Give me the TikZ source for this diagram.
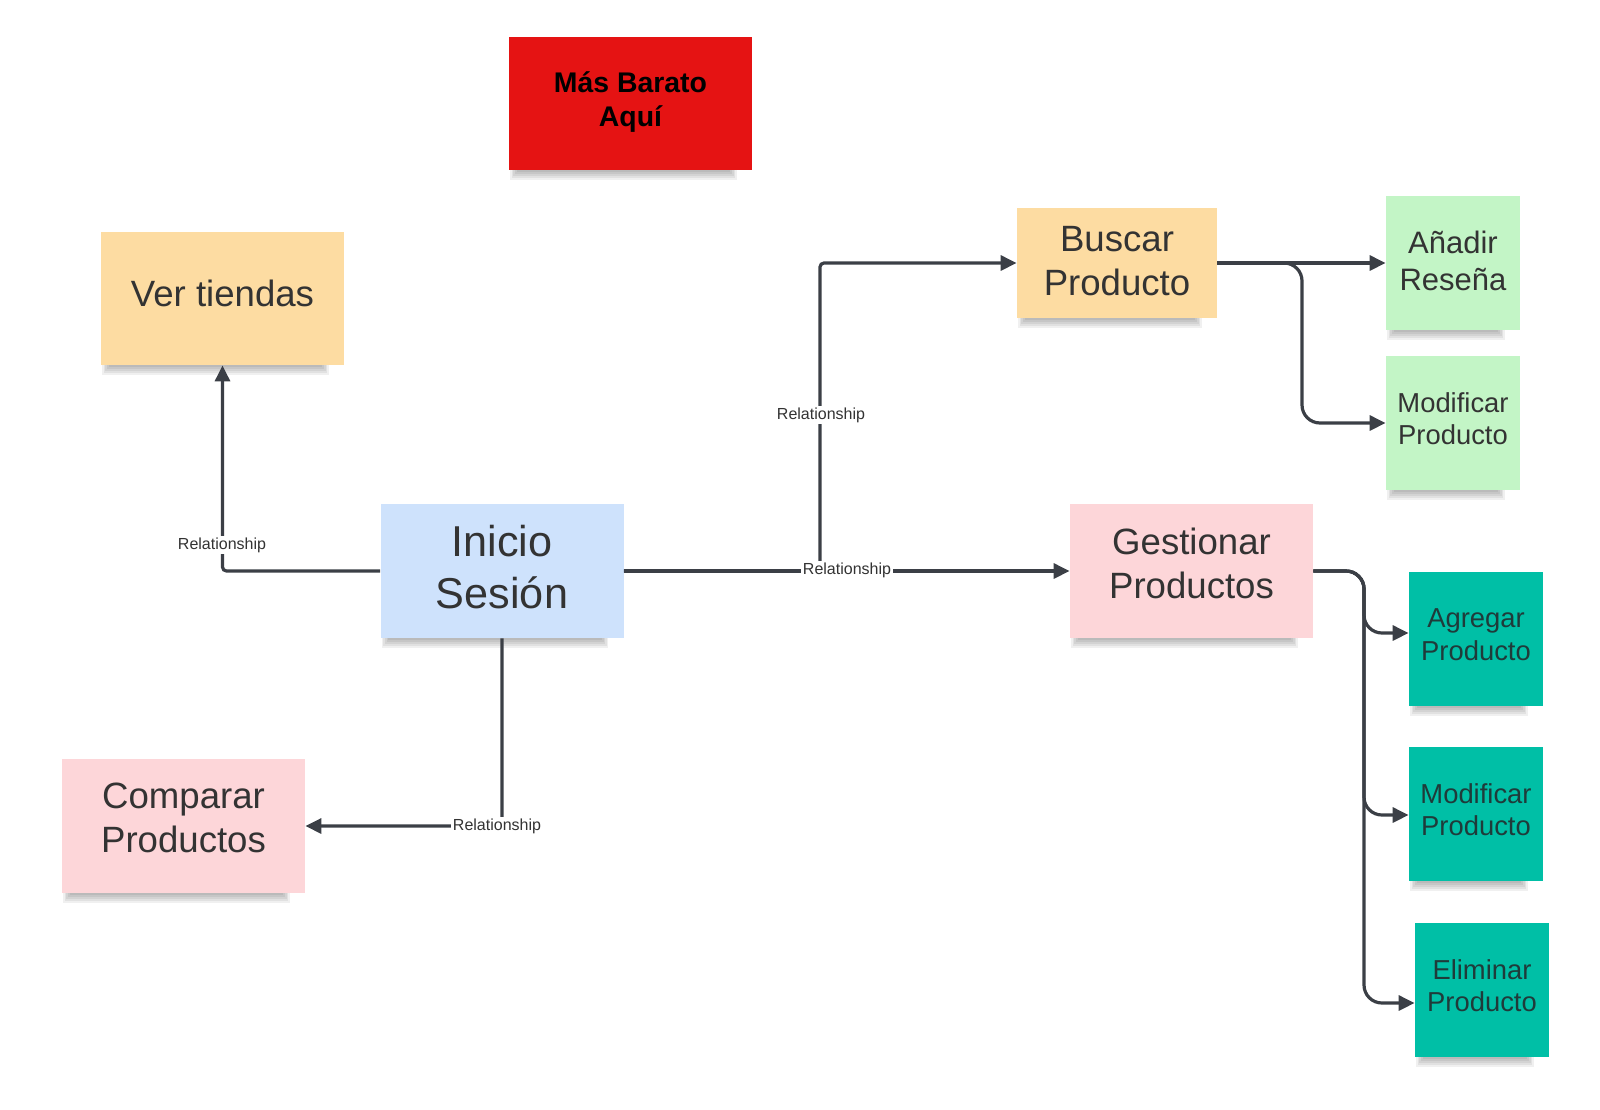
\documentclass[tikz,border=0pt]{standalone}
\usepackage{fontspec}
\setmainfont{Liberation Sans}
\usetikzlibrary{arrows.meta}
\definecolor{cred}{HTML}{E51313}
\definecolor{corange}{HTML}{FDDCA2}
\definecolor{cgreen}{HTML}{C3F5C6}
\definecolor{cblue}{HTML}{CEE2FC}
\definecolor{cpink}{HTML}{FDD6D9}
\definecolor{cteal}{HTML}{00BFA6}
\definecolor{cline}{HTML}{3B3F46}
\definecolor{ctext}{HTML}{333333}
\definecolor{ctealtext}{HTML}{1F3B3A}
\pgfdeclarelayer{bgpaper}
\pgfdeclarelayer{shadowlayer}
\pgfsetlayers{bgpaper,shadowlayer,main}
\tikzset{
  note/.style={draw=none, inner sep=0pt, align=center, text=ctext},
  wide/.style={minimum width=121.5pt, minimum height=67pt},
  sq/.style={minimum width=67pt, minimum height=67pt},
  fbig/.style={font=\fontsize{21.6}{26}\selectfont, text depth=4pt},
  fmid/.style={font=\fontsize{18.3}{22}\selectfont, text depth=8.5pt},
  fsm/.style={font=\fontsize{15.5}{18.5}\selectfont, text depth=2pt},
  fxs/.style={font=\fontsize{13.7}{16.2}\selectfont, text depth=4.5pt},
  conn/.style={draw=cline, line width=1.6pt, -{Triangle[length=8pt,width=7.5pt]}},
  rel/.style={fill=white, inner sep=0.8pt, text=ctext, font=\fontsize{8}{9.5}\selectfont},
  shadowpiece/.style={fill=black, opacity=0.06},
}
\begin{document}
\begin{tikzpicture}[x=0.5pt,y=-0.5pt]
\useasboundingbox (0,0) rectangle (1600,1109);
\begin{pgfonlayer}{bgpaper}
\fill[white] (0,0) rectangle (1600,1109);
\end{pgfonlayer}

% nodes
\node[note, wide, fill=cred, text=black, minimum height=66.5pt,
  font=\fontsize{14.2}{17}\bfseries\selectfont, text depth=4.5pt] (red) at (630.5,103.5) {Más Barato\\Aquí};
\node[note, wide, fill=corange, fmid, minimum height=66.5pt, text depth=5pt] (ver) at (222.5,298.5) {Ver tiendas};
\node[note, fill=corange, fmid, minimum width=100pt, minimum height=55pt, text depth=2.5pt] (buscar) at (1117,263) {Buscar\\Producto};
\node[note, sq, fill=cgreen, fsm] (anadir) at (1453,263) {Añadir\\Reseña};
\node[note, sq, fill=cgreen, fxs] (modg) at (1453,423) {Modificar\\Producto};
\node[note, wide, fill=cblue, fbig] (inicio) at (502,571) {Inicio\\Sesión};
\node[note, wide, fill=cpink, fmid, text depth=7.5pt] (gest) at (1191.5,571) {Gestionar\\Productos};
\node[note, wide, fill=cpink, fmid] (comp) at (183.5,826) {Comparar\\Productos};
\node[note, sq, fill=cteal, fxs, text=ctealtext] (agreg) at (1476,639) {Agregar\\Producto};
\node[note, sq, fill=cteal, fxs, text=ctealtext] (modt) at (1476,814) {Modificar\\Producto};
\node[note, sq, fill=cteal, fxs, text=ctealtext] (elim) at (1482,990) {Eliminar\\Producto};

% soft shadows below the notes
\begin{pgfonlayer}{shadowlayer}
\foreach \n in {red,ver,buscar,anadir,modg,inicio,gest,comp,agreg,modt,elim}{
  \foreach \k in {1,...,5}{
    \fill[shadowpiece] ([xshift={\k*0.8pt}, yshift={-(6-\k)*1pt}]\n.south west)
      rectangle ([xshift={-7pt-\k*0.8pt}, yshift=10pt]\n.south east);
  }
}
\end{pgfonlayer}

% junction coordinates
\coordinate (j1) at (820,571);
\coordinate (b1) at (1302,423);
\coordinate (g1) at (1364,633);
\coordinate (g2) at (1364,815);
\coordinate (g3) at (1364,1003);

% connectors
\draw[conn, rounded corners=2pt] (inicio.west) -| (ver.south);
\draw[conn, rounded corners=2pt] (inicio.east) -- (j1) |- (buscar.west);
\draw[conn] (inicio.east) -- (gest.west);
\draw[conn, rounded corners=2pt] (inicio.south) |- (comp.east);
\draw[conn] (buscar.east) -- (anadir.west);
\draw[conn, rounded corners=9pt] (buscar.east) -| (b1) -- (modg.west);
\draw[conn, rounded corners=9pt] (gest.east) -| (g1) -- (agreg.west |- g1);
\draw[conn, rounded corners=9pt] (gest.east) -| (g2) -- (modt.west |- g2);
\draw[conn, rounded corners=9pt] (gest.east) -| (g3) -- (elim.west |- g3);

% labels
\node[rel] (r1) at (222,545) {Relationship};
\node[rel] (r2) at (821,415) {Relationship};
\node[rel] (r3) at (847,570) {Relationship};
\node[rel] (r4) at (497,826) {Relationship};
\end{tikzpicture}
\end{document}
